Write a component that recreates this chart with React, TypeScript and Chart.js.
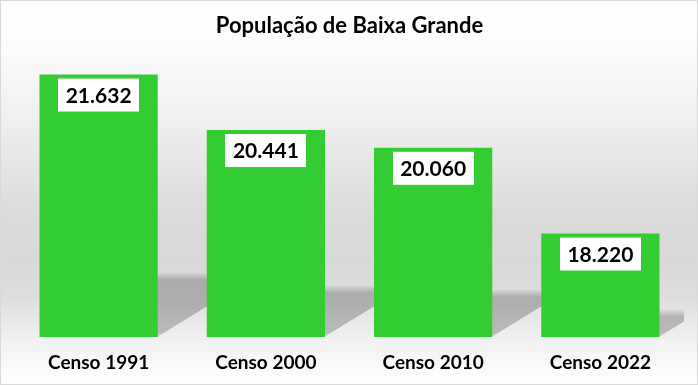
import React, { useEffect, useRef } from "react";
import { Chart, registerables } from "chart.js";

Chart.register(...registerables);

const chartTitle = "População de Baixa Grande";
const categories = ["Censo 1991", "Censo 2000", "Censo 2010", "Censo 2022"];
const populacao = [21632, 20441, 20060, 18220];
const yMin = 16000;
const yMax = 22000;

const FONT = "Lato, 'Open Sans', sans-serif";
const BAR_PCT = 0.707;

// background shading stops: [y, gray level]
const bgStops: [number, number][] = [
  [0, 255],
  [38, 253],
  [115, 240],
  [212, 219],
  [262, 216],
  [300, 222],
  [339, 241],
  [385, 255],
];

function fmt(v: number): string {
  const s = String(Math.round(v));
  return s.replace(/\B(?=(\d{3})+(?!\d))/g, ".");
}

function bgLevel(y: number): number {
  for (let i = 1; i < bgStops.length; i++) {
    const [y1, g1] = bgStops[i];
    const [y0, g0] = bgStops[i - 1];
    if (y <= y1) {
      const t = (y - y0) / (y1 - y0);
      return g0 + (g1 - g0) * t;
    }
  }
  return bgStops[bgStops.length - 1][1];
}

function hex2(n: number): string {
  const c = Math.max(0, Math.min(255, Math.round(n)));
  return (c < 16 ? "0" : "") + c.toString(16);
}

function gray(v: number): string {
  return "#" + hex2(v) + hex2(v) + hex2(v);
}

const cssBackground =
  "linear-gradient(to bottom, " +
  bgStops.map(([y, g]) => `${gray(g)} ${y}px`).join(", ") +
  ")";

const shadowPlugin = {
  id: "barShadow",
  beforeDatasetsDraw(chart: any) {
    const ctx = chart.ctx;
    const xs = chart.scales.x;
    const ys = chart.scales.y;
    const area = chart.chartArea;
    const data = chart.data.datasets[0].data as number[];
    const catW = (area.right - area.left) / data.length;
    const bw = catW * BAR_PCT;
    const k = 1.63;
    const soft = 4;
    const strength = 0.22;
    ctx.save();
    for (let i = 0; i < data.length; i++) {
      const x = xs.getPixelForValue(i);
      const top = ys.getPixelForValue(data[i]);
      const baseF = ys.getPixelForValue(yMin);
      const base = Math.round(baseF);
      const h = baseF - top;
      const sh = h * 0.23;
      const l = x - bw / 2;
      const r = x + bw / 2;
      for (let d = 0; d < sh + soft; d++) {
        const y = base - d - 1;
        let a = strength;
        if (d > sh - soft) a = strength * Math.max(0, (sh + soft - d) / (2 * soft));
        if (d < 4) a = a * (0.6 + 0.1 * d);
        if (a <= 0) continue;
        const x0 = l + d * k;
        const x1 = Math.min(r + d * k, area.right);
        if (x1 <= x0) continue;
        ctx.fillStyle = gray(bgLevel(y + 0.5) * (1 - a));
        ctx.fillRect(x0, y, x1 - x0, 1);
      }
    }
    ctx.restore();
  },
};

const labelPlugin = {
  id: "valueLabels",
  afterDatasetsDraw(chart: any) {
    const ctx = chart.ctx;
    const meta = chart.getDatasetMeta(0);
    const data = chart.data.datasets[0].data as number[];
    ctx.save();
    ctx.font = `bold 21px ${FONT}`;
    ctx.textAlign = "center";
    ctx.textBaseline = "middle";
    meta.data.forEach((el: any, i: number) => {
      const x = el.x;
      const y = el.y;
      const text = fmt(data[i]);
      const w = ctx.measureText(text).width + 15;
      const bh = 33;
      const top = y + 4;
      ctx.fillStyle = "#FFFFFF";
      ctx.fillRect(Math.round(x - w / 2), top, Math.round(w), bh);
      ctx.fillStyle = "#000000";
      ctx.fillText(text, x, top + bh / 2 + 1);
    });
    ctx.restore();
  },
};

export default function App() {
  const ref = useRef<HTMLCanvasElement | null>(null);

  useEffect(() => {
    document.body.style.margin = "0";
    const canvas = ref.current;
    if (!canvas) return;
    const chart = new Chart(canvas, {
      type: "bar",
      data: {
        labels: categories,
        datasets: [
          {
            label: chartTitle,
            data: populacao,
            backgroundColor: "#33CC33",
            borderWidth: 0,
            categoryPercentage: 1,
            barPercentage: BAR_PCT,
          },
        ],
      },
      options: {
        responsive: false,
        animation: false,
        layout: { padding: { left: 15, right: 14, top: 0, bottom: 11 } },
        plugins: {
          legend: { display: false },
          tooltip: { enabled: false },
          title: {
            display: true,
            text: chartTitle,
            color: "#000000",
            font: { family: FONT, size: 22, weight: "bold" },
            padding: { top: 13, bottom: 18 },
          },
        },
        scales: {
          x: {
            grid: { display: false, drawTicks: false },
            border: { display: false },
            ticks: {
              color: "#000000",
              font: { family: FONT, size: 19, weight: "bold" },
              padding: 14,
            },
            afterFit: (scale: any) => {
              scale.height = 37;
            },
          },
          y: {
            display: false,
            min: yMin,
            max: yMax,
          },
        },
      },
      plugins: [shadowPlugin, labelPlugin],
    });
    return () => chart.destroy();
  }, []);

  return (
    <div
      style={{
        width: 698,
        height: 385,
        background: cssBackground,
        boxShadow: "inset 0 0 0 1px #D9D9D9",
        position: "relative",
      }}
    >
      <canvas ref={ref} width={698} height={385} style={{ display: "block" }} />
    </div>
  );
}
